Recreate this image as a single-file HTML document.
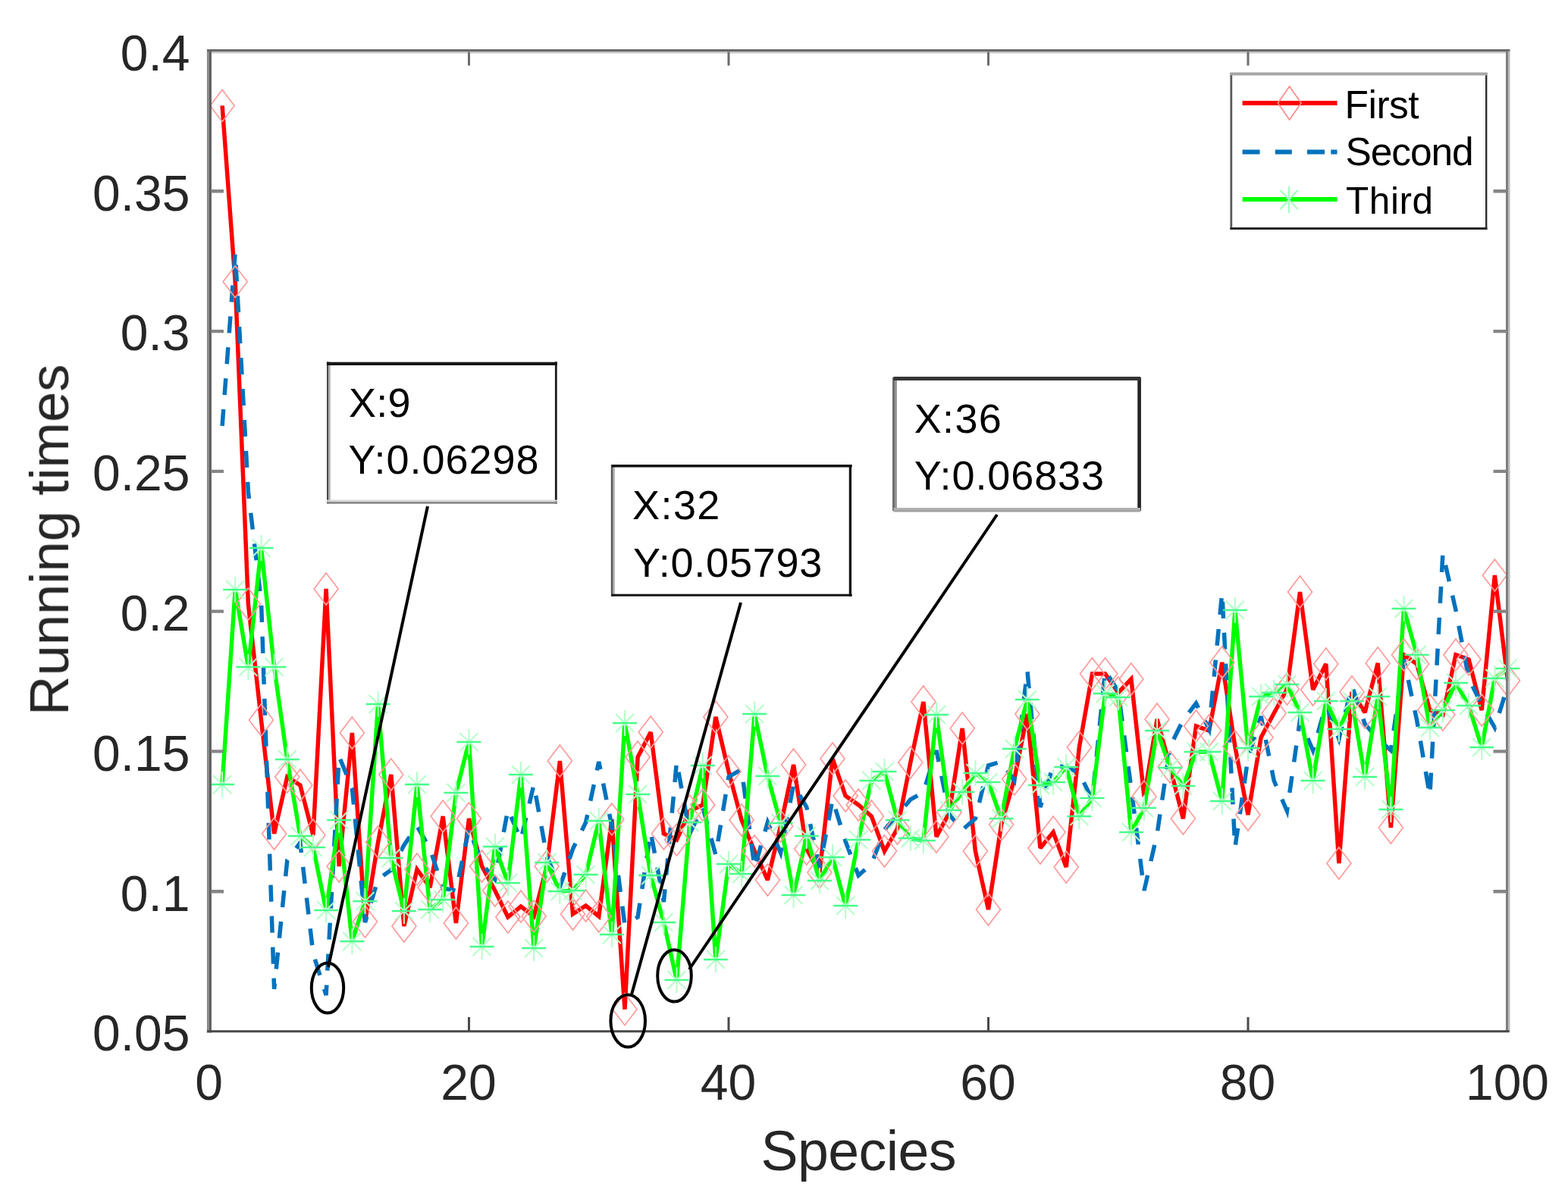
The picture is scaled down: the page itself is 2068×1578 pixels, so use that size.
<!DOCTYPE html><html><head><meta charset="utf-8"><title>Running times vs Species</title>
<style>html,body{margin:0;padding:0;background:#fff;overflow:hidden;}svg{display:block;}text{font-family:"Liberation Sans",Arial,Helvetica,sans-serif;}</style></head><body>
<svg width="2068" height="1578" viewBox="0 0 2068 1578">
<defs><filter id="soft" filterUnits="userSpaceOnUse" x="0" y="0" width="2068" height="1578"><feGaussianBlur stdDeviation="0.55"/></filter></defs>
<rect width="2068" height="1578" fill="#fff"/>
<g filter="url(#soft)">
<polyline fill="none" stroke="#ff0000" stroke-width="5.5" stroke-linejoin="miter" stroke-miterlimit="2.5" points="293.1,139.4 310.2,371.7 327.4,797.0 344.5,950.0 361.6,1100.0 378.8,1025.0 395.9,1036.0 413.0,1102.0 430.1,777.0 447.2,1143.0 464.4,967.0 481.5,1216.0 498.6,1111.0 515.8,1022.0 532.9,1222.0 550.0,1147.0 567.1,1171.0 584.2,1077.0 601.4,1218.0 618.5,1080.0 635.6,1143.0 652.8,1175.0 669.9,1210.0 687.0,1196.0 704.1,1209.0 721.2,1143.0 738.4,1004.0 755.5,1206.0 772.6,1195.0 789.8,1209.0 806.9,1081.0 824.0,1331.7 841.1,999.0 858.2,966.0 875.4,1100.0 892.5,1108.0 909.6,1070.0 926.8,1062.0 943.9,946.0 961.0,1018.0 978.1,1082.0 995.2,1123.0 1012.4,1161.0 1029.5,1090.0 1046.6,1009.0 1063.8,1120.0 1080.9,1151.0 1098.0,1001.0 1115.1,1050.0 1132.2,1062.0 1149.4,1077.0 1166.5,1123.0 1183.6,1093.0 1200.8,1006.0 1217.9,926.0 1235.0,1104.0 1252.1,1072.0 1269.2,961.0 1286.4,1123.0 1303.5,1200.0 1320.6,1088.0 1337.8,1028.0 1354.9,942.0 1372.0,1119.0 1389.1,1098.0 1406.2,1144.0 1423.4,986.0 1440.5,889.0 1457.6,889.0 1474.8,914.0 1491.9,896.0 1509.0,1051.0 1526.1,949.0 1543.2,1012.0 1560.4,1080.0 1577.5,958.0 1594.6,964.0 1611.8,874.0 1628.9,985.0 1646.0,1075.0 1663.1,973.0 1680.2,941.0 1697.4,909.0 1714.5,781.0 1731.6,910.0 1748.8,876.0 1765.9,1139.0 1783.0,913.0 1800.1,940.0 1817.2,875.0 1834.4,1092.0 1851.5,864.0 1868.6,876.0 1885.8,937.0 1902.9,943.0 1920.0,864.0 1937.1,870.0 1954.2,937.0 1971.4,759.0 1988.5,898.0"/>
<polyline fill="none" stroke="#0072bd" stroke-width="5.5" stroke-dasharray="22 19" stroke-linejoin="miter" points="293.1,562.0 310.2,333.0 327.4,649.0 344.5,793.0 361.6,1305.0 378.8,1135.0 395.9,1112.0 413.0,1258.0 430.1,1313.0 447.2,998.0 464.4,1040.0 481.5,1217.0 498.6,1160.0 515.8,1148.0 532.9,1115.0 550.0,1090.0 567.1,1120.0 584.2,1172.0 601.4,1175.0 618.5,1093.0 635.6,1140.0 652.8,1160.0 669.9,1068.0 687.0,1108.0 704.1,1035.0 721.2,1130.0 738.4,1170.0 755.5,1120.0 772.6,1085.0 789.8,1005.0 806.9,1090.0 824.0,1220.0 841.1,1210.0 858.2,1098.0 875.4,1190.0 892.5,1005.0 909.6,1100.0 926.8,1065.0 943.9,1128.0 961.0,1025.0 978.1,1015.0 995.2,1145.0 1012.4,1085.0 1029.5,1125.0 1046.6,1035.0 1063.8,1065.0 1080.9,1145.0 1098.0,1055.0 1115.1,1110.0 1132.2,1155.0 1149.4,1140.0 1166.5,1095.0 1183.6,1075.0 1200.8,1055.0 1217.9,1045.0 1235.0,990.0 1252.1,1075.0 1269.2,1095.0 1286.4,1080.0 1303.5,1010.0 1320.6,1005.0 1337.8,1030.0 1354.9,885.0 1372.0,1065.0 1389.1,1010.0 1406.2,1012.0 1423.4,1020.0 1440.5,1055.0 1457.6,885.0 1474.8,912.0 1491.9,1040.0 1509.0,1175.0 1526.1,1100.0 1543.2,985.0 1560.4,950.0 1577.5,928.0 1594.6,962.0 1611.8,782.0 1628.9,1118.0 1646.0,1000.0 1663.1,945.0 1680.2,1030.0 1697.4,1070.0 1714.5,950.0 1731.6,990.0 1748.8,930.0 1765.9,975.0 1783.0,905.0 1800.1,955.0 1817.2,975.0 1834.4,990.0 1851.5,870.0 1868.6,950.0 1885.8,1050.0 1902.9,730.0 1920.0,805.0 1937.1,895.0 1954.2,930.0 1971.4,960.0 1988.5,905.0"/>
<polyline fill="none" stroke="#00ff00" stroke-width="5.5" stroke-linejoin="miter" stroke-miterlimit="2.5" points="293.1,1035.0 310.2,778.0 327.4,880.0 344.5,723.0 361.6,880.0 378.8,1002.0 395.9,1103.0 413.0,1118.0 430.1,1201.0 447.2,1082.0 464.4,1242.0 481.5,1189.0 498.6,929.0 515.8,1132.0 532.9,1202.0 550.0,1035.0 567.1,1200.0 584.2,1187.0 601.4,1046.0 618.5,979.0 635.6,1249.0 652.8,1117.0 669.9,1165.0 687.0,1022.0 704.1,1251.0 721.2,1138.0 738.4,1176.0 755.5,1175.0 772.6,1154.0 789.8,1083.0 806.9,1233.0 824.0,954.0 841.1,1048.0 858.2,1155.0 875.4,1217.0 892.5,1293.0 909.6,1085.0 926.8,1010.0 943.9,1266.0 961.0,1140.0 978.1,1153.0 995.2,942.0 1012.4,1024.0 1029.5,1086.0 1046.6,1181.0 1063.8,1103.0 1080.9,1162.0 1098.0,1131.0 1115.1,1195.0 1132.2,1108.0 1149.4,1030.0 1166.5,1018.0 1183.6,1082.0 1200.8,1106.0 1217.9,1109.0 1235.0,943.0 1252.1,1069.0 1269.2,1045.0 1286.4,1020.0 1303.5,1032.0 1320.6,1080.0 1337.8,988.0 1354.9,923.0 1372.0,1036.0 1389.1,1032.0 1406.2,1012.0 1423.4,1077.0 1440.5,1053.0 1457.6,915.0 1474.8,920.0 1491.9,1098.0 1509.0,1066.0 1526.1,964.0 1543.2,1013.0 1560.4,1037.0 1577.5,992.0 1594.6,992.0 1611.8,1057.0 1628.9,805.0 1646.0,987.0 1663.1,919.0 1680.2,914.0 1697.4,903.0 1714.5,940.0 1731.6,1030.0 1748.8,925.0 1765.9,962.0 1783.0,925.0 1800.1,1025.0 1817.2,919.0 1834.4,1068.0 1851.5,803.0 1868.6,864.0 1885.8,960.0 1902.9,937.0 1920.0,901.0 1937.1,931.0 1954.2,986.0 1971.4,895.0 1988.5,882.0"/>
<path fill="none" stroke="#ff9c9c" stroke-width="1.7" d="M293.1,118.4L309.1,139.4L293.1,160.4L277.1,139.4ZM310.2,350.7L326.2,371.7L310.2,392.7L294.2,371.7ZM327.4,776.0L343.4,797.0L327.4,818.0L311.4,797.0ZM344.5,929.0L360.5,950.0L344.5,971.0L328.5,950.0ZM361.6,1079.0L377.6,1100.0L361.6,1121.0L345.6,1100.0ZM378.8,1004.0L394.8,1025.0L378.8,1046.0L362.8,1025.0ZM395.9,1015.0L411.9,1036.0L395.9,1057.0L379.9,1036.0ZM413.0,1081.0L429.0,1102.0L413.0,1123.0L397.0,1102.0ZM430.1,756.0L446.1,777.0L430.1,798.0L414.1,777.0ZM447.2,1122.0L463.2,1143.0L447.2,1164.0L431.2,1143.0ZM464.4,946.0L480.4,967.0L464.4,988.0L448.4,967.0ZM481.5,1195.0L497.5,1216.0L481.5,1237.0L465.5,1216.0ZM498.6,1090.0L514.6,1111.0L498.6,1132.0L482.6,1111.0ZM515.8,1001.0L531.8,1022.0L515.8,1043.0L499.8,1022.0ZM532.9,1201.0L548.9,1222.0L532.9,1243.0L516.9,1222.0ZM550.0,1126.0L566.0,1147.0L550.0,1168.0L534.0,1147.0ZM567.1,1150.0L583.1,1171.0L567.1,1192.0L551.1,1171.0ZM584.2,1056.0L600.2,1077.0L584.2,1098.0L568.2,1077.0ZM601.4,1197.0L617.4,1218.0L601.4,1239.0L585.4,1218.0ZM618.5,1059.0L634.5,1080.0L618.5,1101.0L602.5,1080.0ZM635.6,1122.0L651.6,1143.0L635.6,1164.0L619.6,1143.0ZM652.8,1154.0L668.8,1175.0L652.8,1196.0L636.8,1175.0ZM669.9,1189.0L685.9,1210.0L669.9,1231.0L653.9,1210.0ZM687.0,1175.0L703.0,1196.0L687.0,1217.0L671.0,1196.0ZM704.1,1188.0L720.1,1209.0L704.1,1230.0L688.1,1209.0ZM721.2,1122.0L737.2,1143.0L721.2,1164.0L705.2,1143.0ZM738.4,983.0L754.4,1004.0L738.4,1025.0L722.4,1004.0ZM755.5,1185.0L771.5,1206.0L755.5,1227.0L739.5,1206.0ZM772.6,1174.0L788.6,1195.0L772.6,1216.0L756.6,1195.0ZM789.8,1188.0L805.8,1209.0L789.8,1230.0L773.8,1209.0ZM806.9,1060.0L822.9,1081.0L806.9,1102.0L790.9,1081.0ZM824.0,1310.7L840.0,1331.7L824.0,1352.7L808.0,1331.7ZM841.1,978.0L857.1,999.0L841.1,1020.0L825.1,999.0ZM858.2,945.0L874.2,966.0L858.2,987.0L842.2,966.0ZM875.4,1079.0L891.4,1100.0L875.4,1121.0L859.4,1100.0ZM892.5,1087.0L908.5,1108.0L892.5,1129.0L876.5,1108.0ZM909.6,1049.0L925.6,1070.0L909.6,1091.0L893.6,1070.0ZM926.8,1041.0L942.8,1062.0L926.8,1083.0L910.8,1062.0ZM943.9,925.0L959.9,946.0L943.9,967.0L927.9,946.0ZM961.0,997.0L977.0,1018.0L961.0,1039.0L945.0,1018.0ZM978.1,1061.0L994.1,1082.0L978.1,1103.0L962.1,1082.0ZM995.2,1102.0L1011.2,1123.0L995.2,1144.0L979.2,1123.0ZM1012.4,1140.0L1028.4,1161.0L1012.4,1182.0L996.4,1161.0ZM1029.5,1069.0L1045.5,1090.0L1029.5,1111.0L1013.5,1090.0ZM1046.6,988.0L1062.6,1009.0L1046.6,1030.0L1030.6,1009.0ZM1063.8,1099.0L1079.8,1120.0L1063.8,1141.0L1047.8,1120.0ZM1080.9,1130.0L1096.9,1151.0L1080.9,1172.0L1064.9,1151.0ZM1098.0,980.0L1114.0,1001.0L1098.0,1022.0L1082.0,1001.0ZM1115.1,1029.0L1131.1,1050.0L1115.1,1071.0L1099.1,1050.0ZM1132.2,1041.0L1148.2,1062.0L1132.2,1083.0L1116.2,1062.0ZM1149.4,1056.0L1165.4,1077.0L1149.4,1098.0L1133.4,1077.0ZM1166.5,1102.0L1182.5,1123.0L1166.5,1144.0L1150.5,1123.0ZM1183.6,1072.0L1199.6,1093.0L1183.6,1114.0L1167.6,1093.0ZM1200.8,985.0L1216.8,1006.0L1200.8,1027.0L1184.8,1006.0ZM1217.9,905.0L1233.9,926.0L1217.9,947.0L1201.9,926.0ZM1235.0,1083.0L1251.0,1104.0L1235.0,1125.0L1219.0,1104.0ZM1252.1,1051.0L1268.1,1072.0L1252.1,1093.0L1236.1,1072.0ZM1269.2,940.0L1285.2,961.0L1269.2,982.0L1253.2,961.0ZM1286.4,1102.0L1302.4,1123.0L1286.4,1144.0L1270.4,1123.0ZM1303.5,1179.0L1319.5,1200.0L1303.5,1221.0L1287.5,1200.0ZM1320.6,1067.0L1336.6,1088.0L1320.6,1109.0L1304.6,1088.0ZM1337.8,1007.0L1353.8,1028.0L1337.8,1049.0L1321.8,1028.0ZM1354.9,921.0L1370.9,942.0L1354.9,963.0L1338.9,942.0ZM1372.0,1098.0L1388.0,1119.0L1372.0,1140.0L1356.0,1119.0ZM1389.1,1077.0L1405.1,1098.0L1389.1,1119.0L1373.1,1098.0ZM1406.2,1123.0L1422.2,1144.0L1406.2,1165.0L1390.2,1144.0ZM1423.4,965.0L1439.4,986.0L1423.4,1007.0L1407.4,986.0ZM1440.5,868.0L1456.5,889.0L1440.5,910.0L1424.5,889.0ZM1457.6,868.0L1473.6,889.0L1457.6,910.0L1441.6,889.0ZM1474.8,893.0L1490.8,914.0L1474.8,935.0L1458.8,914.0ZM1491.9,875.0L1507.9,896.0L1491.9,917.0L1475.9,896.0ZM1509.0,1030.0L1525.0,1051.0L1509.0,1072.0L1493.0,1051.0ZM1526.1,928.0L1542.1,949.0L1526.1,970.0L1510.1,949.0ZM1543.2,991.0L1559.2,1012.0L1543.2,1033.0L1527.2,1012.0ZM1560.4,1059.0L1576.4,1080.0L1560.4,1101.0L1544.4,1080.0ZM1577.5,937.0L1593.5,958.0L1577.5,979.0L1561.5,958.0ZM1594.6,943.0L1610.6,964.0L1594.6,985.0L1578.6,964.0ZM1611.8,853.0L1627.8,874.0L1611.8,895.0L1595.8,874.0ZM1628.9,964.0L1644.9,985.0L1628.9,1006.0L1612.9,985.0ZM1646.0,1054.0L1662.0,1075.0L1646.0,1096.0L1630.0,1075.0ZM1663.1,952.0L1679.1,973.0L1663.1,994.0L1647.1,973.0ZM1680.2,920.0L1696.2,941.0L1680.2,962.0L1664.2,941.0ZM1697.4,888.0L1713.4,909.0L1697.4,930.0L1681.4,909.0ZM1714.5,760.0L1730.5,781.0L1714.5,802.0L1698.5,781.0ZM1731.6,889.0L1747.6,910.0L1731.6,931.0L1715.6,910.0ZM1748.8,855.0L1764.8,876.0L1748.8,897.0L1732.8,876.0ZM1765.9,1118.0L1781.9,1139.0L1765.9,1160.0L1749.9,1139.0ZM1783.0,892.0L1799.0,913.0L1783.0,934.0L1767.0,913.0ZM1800.1,919.0L1816.1,940.0L1800.1,961.0L1784.1,940.0ZM1817.2,854.0L1833.2,875.0L1817.2,896.0L1801.2,875.0ZM1834.4,1071.0L1850.4,1092.0L1834.4,1113.0L1818.4,1092.0ZM1851.5,843.0L1867.5,864.0L1851.5,885.0L1835.5,864.0ZM1868.6,855.0L1884.6,876.0L1868.6,897.0L1852.6,876.0ZM1885.8,916.0L1901.8,937.0L1885.8,958.0L1869.8,937.0ZM1902.9,922.0L1918.9,943.0L1902.9,964.0L1886.9,943.0ZM1920.0,843.0L1936.0,864.0L1920.0,885.0L1904.0,864.0ZM1937.1,849.0L1953.1,870.0L1937.1,891.0L1921.1,870.0ZM1954.2,916.0L1970.2,937.0L1954.2,958.0L1938.2,937.0ZM1971.4,738.0L1987.4,759.0L1971.4,780.0L1955.4,759.0ZM1988.5,877.0L2004.5,898.0L1988.5,919.0L1972.5,898.0Z"/>
<path fill="none" stroke="#b4ffc8" stroke-width="2" d="M293.1,1018.0V1052.0M281.1,1023.0L305.1,1047.0M281.1,1047.0L305.1,1023.0M310.2,761.0V795.0M298.2,766.0L322.2,790.0M298.2,790.0L322.2,766.0M327.4,863.0V897.0M315.4,868.0L339.4,892.0M315.4,892.0L339.4,868.0M344.5,706.0V740.0M332.5,711.0L356.5,735.0M332.5,735.0L356.5,711.0M361.6,863.0V897.0M349.6,868.0L373.6,892.0M349.6,892.0L373.6,868.0M378.8,985.0V1019.0M366.8,990.0L390.8,1014.0M366.8,1014.0L390.8,990.0M395.9,1086.0V1120.0M383.9,1091.0L407.9,1115.0M383.9,1115.0L407.9,1091.0M413.0,1101.0V1135.0M401.0,1106.0L425.0,1130.0M401.0,1130.0L425.0,1106.0M430.1,1184.0V1218.0M418.1,1189.0L442.1,1213.0M418.1,1213.0L442.1,1189.0M447.2,1065.0V1099.0M435.2,1070.0L459.2,1094.0M435.2,1094.0L459.2,1070.0M464.4,1225.0V1259.0M452.4,1230.0L476.4,1254.0M452.4,1254.0L476.4,1230.0M481.5,1172.0V1206.0M469.5,1177.0L493.5,1201.0M469.5,1201.0L493.5,1177.0M498.6,912.0V946.0M486.6,917.0L510.6,941.0M486.6,941.0L510.6,917.0M515.8,1115.0V1149.0M503.8,1120.0L527.8,1144.0M503.8,1144.0L527.8,1120.0M532.9,1185.0V1219.0M520.9,1190.0L544.9,1214.0M520.9,1214.0L544.9,1190.0M550.0,1018.0V1052.0M538.0,1023.0L562.0,1047.0M538.0,1047.0L562.0,1023.0M567.1,1183.0V1217.0M555.1,1188.0L579.1,1212.0M555.1,1212.0L579.1,1188.0M584.2,1170.0V1204.0M572.2,1175.0L596.2,1199.0M572.2,1199.0L596.2,1175.0M601.4,1029.0V1063.0M589.4,1034.0L613.4,1058.0M589.4,1058.0L613.4,1034.0M618.5,962.0V996.0M606.5,967.0L630.5,991.0M606.5,991.0L630.5,967.0M635.6,1232.0V1266.0M623.6,1237.0L647.6,1261.0M623.6,1261.0L647.6,1237.0M652.8,1100.0V1134.0M640.8,1105.0L664.8,1129.0M640.8,1129.0L664.8,1105.0M669.9,1148.0V1182.0M657.9,1153.0L681.9,1177.0M657.9,1177.0L681.9,1153.0M687.0,1005.0V1039.0M675.0,1010.0L699.0,1034.0M675.0,1034.0L699.0,1010.0M704.1,1234.0V1268.0M692.1,1239.0L716.1,1263.0M692.1,1263.0L716.1,1239.0M721.2,1121.0V1155.0M709.2,1126.0L733.2,1150.0M709.2,1150.0L733.2,1126.0M738.4,1159.0V1193.0M726.4,1164.0L750.4,1188.0M726.4,1188.0L750.4,1164.0M755.5,1158.0V1192.0M743.5,1163.0L767.5,1187.0M743.5,1187.0L767.5,1163.0M772.6,1137.0V1171.0M760.6,1142.0L784.6,1166.0M760.6,1166.0L784.6,1142.0M789.8,1066.0V1100.0M777.8,1071.0L801.8,1095.0M777.8,1095.0L801.8,1071.0M806.9,1216.0V1250.0M794.9,1221.0L818.9,1245.0M794.9,1245.0L818.9,1221.0M824.0,937.0V971.0M812.0,942.0L836.0,966.0M812.0,966.0L836.0,942.0M841.1,1031.0V1065.0M829.1,1036.0L853.1,1060.0M829.1,1060.0L853.1,1036.0M858.2,1138.0V1172.0M846.2,1143.0L870.2,1167.0M846.2,1167.0L870.2,1143.0M875.4,1200.0V1234.0M863.4,1205.0L887.4,1229.0M863.4,1229.0L887.4,1205.0M892.5,1276.0V1310.0M880.5,1281.0L904.5,1305.0M880.5,1305.0L904.5,1281.0M909.6,1068.0V1102.0M897.6,1073.0L921.6,1097.0M897.6,1097.0L921.6,1073.0M926.8,993.0V1027.0M914.8,998.0L938.8,1022.0M914.8,1022.0L938.8,998.0M943.9,1249.0V1283.0M931.9,1254.0L955.9,1278.0M931.9,1278.0L955.9,1254.0M961.0,1123.0V1157.0M949.0,1128.0L973.0,1152.0M949.0,1152.0L973.0,1128.0M978.1,1136.0V1170.0M966.1,1141.0L990.1,1165.0M966.1,1165.0L990.1,1141.0M995.2,925.0V959.0M983.2,930.0L1007.2,954.0M983.2,954.0L1007.2,930.0M1012.4,1007.0V1041.0M1000.4,1012.0L1024.4,1036.0M1000.4,1036.0L1024.4,1012.0M1029.5,1069.0V1103.0M1017.5,1074.0L1041.5,1098.0M1017.5,1098.0L1041.5,1074.0M1046.6,1164.0V1198.0M1034.6,1169.0L1058.6,1193.0M1034.6,1193.0L1058.6,1169.0M1063.8,1086.0V1120.0M1051.8,1091.0L1075.8,1115.0M1051.8,1115.0L1075.8,1091.0M1080.9,1145.0V1179.0M1068.9,1150.0L1092.9,1174.0M1068.9,1174.0L1092.9,1150.0M1098.0,1114.0V1148.0M1086.0,1119.0L1110.0,1143.0M1086.0,1143.0L1110.0,1119.0M1115.1,1178.0V1212.0M1103.1,1183.0L1127.1,1207.0M1103.1,1207.0L1127.1,1183.0M1132.2,1091.0V1125.0M1120.2,1096.0L1144.2,1120.0M1120.2,1120.0L1144.2,1096.0M1149.4,1013.0V1047.0M1137.4,1018.0L1161.4,1042.0M1137.4,1042.0L1161.4,1018.0M1166.5,1001.0V1035.0M1154.5,1006.0L1178.5,1030.0M1154.5,1030.0L1178.5,1006.0M1183.6,1065.0V1099.0M1171.6,1070.0L1195.6,1094.0M1171.6,1094.0L1195.6,1070.0M1200.8,1089.0V1123.0M1188.8,1094.0L1212.8,1118.0M1188.8,1118.0L1212.8,1094.0M1217.9,1092.0V1126.0M1205.9,1097.0L1229.9,1121.0M1205.9,1121.0L1229.9,1097.0M1235.0,926.0V960.0M1223.0,931.0L1247.0,955.0M1223.0,955.0L1247.0,931.0M1252.1,1052.0V1086.0M1240.1,1057.0L1264.1,1081.0M1240.1,1081.0L1264.1,1057.0M1269.2,1028.0V1062.0M1257.2,1033.0L1281.2,1057.0M1257.2,1057.0L1281.2,1033.0M1286.4,1003.0V1037.0M1274.4,1008.0L1298.4,1032.0M1274.4,1032.0L1298.4,1008.0M1303.5,1015.0V1049.0M1291.5,1020.0L1315.5,1044.0M1291.5,1044.0L1315.5,1020.0M1320.6,1063.0V1097.0M1308.6,1068.0L1332.6,1092.0M1308.6,1092.0L1332.6,1068.0M1337.8,971.0V1005.0M1325.8,976.0L1349.8,1000.0M1325.8,1000.0L1349.8,976.0M1354.9,906.0V940.0M1342.9,911.0L1366.9,935.0M1342.9,935.0L1366.9,911.0M1372.0,1019.0V1053.0M1360.0,1024.0L1384.0,1048.0M1360.0,1048.0L1384.0,1024.0M1389.1,1015.0V1049.0M1377.1,1020.0L1401.1,1044.0M1377.1,1044.0L1401.1,1020.0M1406.2,995.0V1029.0M1394.2,1000.0L1418.2,1024.0M1394.2,1024.0L1418.2,1000.0M1423.4,1060.0V1094.0M1411.4,1065.0L1435.4,1089.0M1411.4,1089.0L1435.4,1065.0M1440.5,1036.0V1070.0M1428.5,1041.0L1452.5,1065.0M1428.5,1065.0L1452.5,1041.0M1457.6,898.0V932.0M1445.6,903.0L1469.6,927.0M1445.6,927.0L1469.6,903.0M1474.8,903.0V937.0M1462.8,908.0L1486.8,932.0M1462.8,932.0L1486.8,908.0M1491.9,1081.0V1115.0M1479.9,1086.0L1503.9,1110.0M1479.9,1110.0L1503.9,1086.0M1509.0,1049.0V1083.0M1497.0,1054.0L1521.0,1078.0M1497.0,1078.0L1521.0,1054.0M1526.1,947.0V981.0M1514.1,952.0L1538.1,976.0M1514.1,976.0L1538.1,952.0M1543.2,996.0V1030.0M1531.2,1001.0L1555.2,1025.0M1531.2,1025.0L1555.2,1001.0M1560.4,1020.0V1054.0M1548.4,1025.0L1572.4,1049.0M1548.4,1049.0L1572.4,1025.0M1577.5,975.0V1009.0M1565.5,980.0L1589.5,1004.0M1565.5,1004.0L1589.5,980.0M1594.6,975.0V1009.0M1582.6,980.0L1606.6,1004.0M1582.6,1004.0L1606.6,980.0M1611.8,1040.0V1074.0M1599.8,1045.0L1623.8,1069.0M1599.8,1069.0L1623.8,1045.0M1628.9,788.0V822.0M1616.9,793.0L1640.9,817.0M1616.9,817.0L1640.9,793.0M1646.0,970.0V1004.0M1634.0,975.0L1658.0,999.0M1634.0,999.0L1658.0,975.0M1663.1,902.0V936.0M1651.1,907.0L1675.1,931.0M1651.1,931.0L1675.1,907.0M1680.2,897.0V931.0M1668.2,902.0L1692.2,926.0M1668.2,926.0L1692.2,902.0M1697.4,886.0V920.0M1685.4,891.0L1709.4,915.0M1685.4,915.0L1709.4,891.0M1714.5,923.0V957.0M1702.5,928.0L1726.5,952.0M1702.5,952.0L1726.5,928.0M1731.6,1013.0V1047.0M1719.6,1018.0L1743.6,1042.0M1719.6,1042.0L1743.6,1018.0M1748.8,908.0V942.0M1736.8,913.0L1760.8,937.0M1736.8,937.0L1760.8,913.0M1765.9,945.0V979.0M1753.9,950.0L1777.9,974.0M1753.9,974.0L1777.9,950.0M1783.0,908.0V942.0M1771.0,913.0L1795.0,937.0M1771.0,937.0L1795.0,913.0M1800.1,1008.0V1042.0M1788.1,1013.0L1812.1,1037.0M1788.1,1037.0L1812.1,1013.0M1817.2,902.0V936.0M1805.2,907.0L1829.2,931.0M1805.2,931.0L1829.2,907.0M1834.4,1051.0V1085.0M1822.4,1056.0L1846.4,1080.0M1822.4,1080.0L1846.4,1056.0M1851.5,786.0V820.0M1839.5,791.0L1863.5,815.0M1839.5,815.0L1863.5,791.0M1868.6,847.0V881.0M1856.6,852.0L1880.6,876.0M1856.6,876.0L1880.6,852.0M1885.8,943.0V977.0M1873.8,948.0L1897.8,972.0M1873.8,972.0L1897.8,948.0M1902.9,920.0V954.0M1890.9,925.0L1914.9,949.0M1890.9,949.0L1914.9,925.0M1920.0,884.0V918.0M1908.0,889.0L1932.0,913.0M1908.0,913.0L1932.0,889.0M1937.1,914.0V948.0M1925.1,919.0L1949.1,943.0M1925.1,943.0L1949.1,919.0M1954.2,969.0V1003.0M1942.2,974.0L1966.2,998.0M1942.2,998.0L1966.2,974.0M1971.4,878.0V912.0M1959.4,883.0L1983.4,907.0M1959.4,907.0L1983.4,883.0M1988.5,865.0V899.0M1976.5,870.0L2000.5,894.0M1976.5,894.0L2000.5,870.0"/>
<path fill="none" stroke="#44ff88" stroke-width="2.4" d="M277.1,1035.0H309.1M294.2,778.0H326.2M311.4,880.0H343.4M328.5,723.0H360.5M345.6,880.0H377.6M362.8,1002.0H394.8M379.9,1103.0H411.9M397.0,1118.0H429.0M414.1,1201.0H446.1M431.2,1082.0H463.2M448.4,1242.0H480.4M465.5,1189.0H497.5M482.6,929.0H514.6M499.8,1132.0H531.8M516.9,1202.0H548.9M534.0,1035.0H566.0M551.1,1200.0H583.1M568.2,1187.0H600.2M585.4,1046.0H617.4M602.5,979.0H634.5M619.6,1249.0H651.6M636.8,1117.0H668.8M653.9,1165.0H685.9M671.0,1022.0H703.0M688.1,1251.0H720.1M705.2,1138.0H737.2M722.4,1176.0H754.4M739.5,1175.0H771.5M756.6,1154.0H788.6M773.8,1083.0H805.8M790.9,1233.0H822.9M808.0,954.0H840.0M825.1,1048.0H857.1M842.2,1155.0H874.2M859.4,1217.0H891.4M876.5,1293.0H908.5M893.6,1085.0H925.6M910.8,1010.0H942.8M927.9,1266.0H959.9M945.0,1140.0H977.0M962.1,1153.0H994.1M979.2,942.0H1011.2M996.4,1024.0H1028.4M1013.5,1086.0H1045.5M1030.6,1181.0H1062.6M1047.8,1103.0H1079.8M1064.9,1162.0H1096.9M1082.0,1131.0H1114.0M1099.1,1195.0H1131.1M1116.2,1108.0H1148.2M1133.4,1030.0H1165.4M1150.5,1018.0H1182.5M1167.6,1082.0H1199.6M1184.8,1106.0H1216.8M1201.9,1109.0H1233.9M1219.0,943.0H1251.0M1236.1,1069.0H1268.1M1253.2,1045.0H1285.2M1270.4,1020.0H1302.4M1287.5,1032.0H1319.5M1304.6,1080.0H1336.6M1321.8,988.0H1353.8M1338.9,923.0H1370.9M1356.0,1036.0H1388.0M1373.1,1032.0H1405.1M1390.2,1012.0H1422.2M1407.4,1077.0H1439.4M1424.5,1053.0H1456.5M1441.6,915.0H1473.6M1458.8,920.0H1490.8M1475.9,1098.0H1507.9M1493.0,1066.0H1525.0M1510.1,964.0H1542.1M1527.2,1013.0H1559.2M1544.4,1037.0H1576.4M1561.5,992.0H1593.5M1578.6,992.0H1610.6M1595.8,1057.0H1627.8M1612.9,805.0H1644.9M1630.0,987.0H1662.0M1647.1,919.0H1679.1M1664.2,914.0H1696.2M1681.4,903.0H1713.4M1698.5,940.0H1730.5M1715.6,1030.0H1747.6M1732.8,925.0H1764.8M1749.9,962.0H1781.9M1767.0,925.0H1799.0M1784.1,1025.0H1816.1M1801.2,919.0H1833.2M1818.4,1068.0H1850.4M1835.5,803.0H1867.5M1852.6,864.0H1884.6M1869.8,960.0H1901.8M1886.9,937.0H1918.9M1904.0,901.0H1936.0M1921.1,931.0H1953.1M1938.2,986.0H1970.2M1955.4,895.0H1987.4M1972.5,882.0H2004.5"/>
<line x1="274.4" y1="65.0" x2="274.4" y2="1362.5" stroke="#8a8a8a" stroke-width="3"/>
<line x1="277.4" y1="65.0" x2="277.4" y2="1362.5" stroke="#5c5c5c" stroke-width="3"/>
<line x1="273.0" y1="66.5" x2="1991.5" y2="66.5" stroke="#686868" stroke-width="3"/>
<line x1="279.0" y1="69.2" x2="1988.5" y2="69.2" stroke="#bdbdbd" stroke-width="2"/>
<line x1="1987.5" y1="67.5" x2="1987.5" y2="1362.0" stroke="#7e7e7e" stroke-width="3"/>
<line x1="1990.3" y1="67.5" x2="1990.3" y2="1362.0" stroke="#b8b8b8" stroke-width="2.4"/>
<line x1="273.0" y1="1360.8" x2="1990.5" y2="1360.8" stroke="#484848" stroke-width="3"/>
<path fill="none" stroke="#6c6c6c" stroke-width="3" d="M618.5,68.5V86.5M961.0,68.5V86.5M1303.5,68.5V86.5M1646.0,68.5V86.5"/>
<path fill="none" stroke="#4a4a4a" stroke-width="3" d="M618.5,1360.0V1342.0M961.0,1360.0V1342.0M1303.5,1360.0V1342.0M1646.0,1360.0V1342.0"/>
<path fill="none" stroke="#858585" stroke-width="4.4" d="M278.0,1176.2H295.0M1987.5,1176.2H1969.5M278.0,991.4H295.0M1987.5,991.4H1969.5M278.0,806.6H295.0M1987.5,806.6H1969.5M278.0,621.9H295.0M1987.5,621.9H1969.5M278.0,437.1H295.0M1987.5,437.1H1969.5M278.0,252.3H295.0M1987.5,252.3H1969.5"/>
<text x="250.5" y="1386.3" font-size="66" fill="#262626" text-anchor="end">0.05</text>
<text x="250.5" y="1201.5" font-size="66" fill="#262626" text-anchor="end">0.1</text>
<text x="250.5" y="1016.7" font-size="66" fill="#262626" text-anchor="end">0.15</text>
<text x="250.5" y="831.9" font-size="66" fill="#262626" text-anchor="end">0.2</text>
<text x="250.5" y="647.2" font-size="66" fill="#262626" text-anchor="end">0.25</text>
<text x="250.5" y="462.4" font-size="66" fill="#262626" text-anchor="end">0.3</text>
<text x="250.5" y="277.6" font-size="66" fill="#262626" text-anchor="end">0.35</text>
<text x="250.5" y="92.8" font-size="66" fill="#262626" text-anchor="end">0.4</text>
<text x="275.5" y="1451.4" font-size="66" fill="#262626" text-anchor="middle">0</text>
<text x="618.0" y="1451.4" font-size="66" fill="#262626" text-anchor="middle">20</text>
<text x="960.5" y="1451.4" font-size="66" fill="#262626" text-anchor="middle">40</text>
<text x="1303.0" y="1451.4" font-size="66" fill="#262626" text-anchor="middle">60</text>
<text x="1645.5" y="1451.4" font-size="66" fill="#262626" text-anchor="middle">80</text>
<text x="1988.0" y="1451.4" font-size="66" fill="#262626" text-anchor="middle">100</text>
<text x="1132.5" y="1543.7" font-size="73.5" fill="#262626" text-anchor="middle" textLength="257.8">Species</text>
<text transform="translate(89.9,712.3) rotate(-90)" x="0" y="0" font-size="72.5" fill="#262626" text-anchor="middle">Running times</text>
<rect x="1623.8" y="97.4" width="336.5" height="204.5" fill="#fff"/>
<g fill="none">
<line x1="1623.8" y1="96" x2="1623.8" y2="303" stroke="#5a5a5a" stroke-width="2.8"/>
<line x1="1960.2" y1="96" x2="1960.2" y2="303" stroke="#2e2e2e" stroke-width="2.4"/>
<line x1="1622.4" y1="301.5" x2="1961.4" y2="301.5" stroke="#262626" stroke-width="3.2"/>
<line x1="1622.4" y1="97.4" x2="1961.4" y2="97.4" stroke="#a6a6a6" stroke-width="4"/>
</g>
<line x1="1638.6" y1="136" x2="1763.5" y2="136" stroke="#ff0000" stroke-width="6"/>
<path fill="none" stroke="#ff8a8a" stroke-width="1.7" d="M1700.7,114L1716,136L1700.7,158L1685.4,136Z"/>
<path fill="none" stroke="#0072bd" stroke-width="6" d="M1638.6,200.4H1661.6M1681.8,200.4H1703.8M1724,200.4H1747M1755.3,200.4H1763.5"/>
<line x1="1638.6" y1="263" x2="1763.5" y2="263" stroke="#00ff00" stroke-width="6"/>
<path fill="none" stroke="#a0ffbc" stroke-width="2" d="M1700,246V281M1688.5,251L1711.5,276M1688.5,276L1711.5,251"/>
<text x="1773.5" y="155.8" font-size="51.5" fill="#000" textLength="98.1">First</text>
<text x="1774.5" y="218.4" font-size="51.5" fill="#000" textLength="169.1">Second</text>
<text x="1775" y="282" font-size="49.5" fill="#000" textLength="115.1">Third</text>
<rect x="432.4" y="478.8" width="301.1" height="184.3" fill="#fff"/>
<line x1="432.2" y1="477.3" x2="432.2" y2="664.6" stroke="#4a4a4a" stroke-width="2.4"/>
<line x1="434.5" y1="477.3" x2="434.5" y2="664.6" stroke="#aaaaaa" stroke-width="2.4"/>
<line x1="733.3" y1="477.3" x2="733.3" y2="664.6" stroke="#1a1a1a" stroke-width="2.8"/>
<line x1="430.9" y1="660.6" x2="735.0" y2="660.6" stroke="#d5d5d5" stroke-width="2.4"/>
<line x1="430.9" y1="663.4" x2="735.0" y2="663.4" stroke="#8a8a8a" stroke-width="2.8"/>
<line x1="430.9" y1="479.8" x2="735.0" y2="479.8" stroke="#141414" stroke-width="4.2"/>
<text x="460.0" y="549.6" font-size="54" fill="#000" textLength="81.6">X:9</text>
<text x="459.6" y="625.0" font-size="54" fill="#000" textLength="251.05">Y:0.06298</text>
<rect x="808.2" y="614.5" width="314.0" height="171.0" fill="#fff"/>
<line x1="807.0" y1="613.0" x2="807.0" y2="787.0" stroke="#555555" stroke-width="2.4"/>
<line x1="809.4" y1="613.0" x2="809.4" y2="787.0" stroke="#a0a0a0" stroke-width="2.4"/>
<line x1="1121.4" y1="613.0" x2="1121.4" y2="787.0" stroke="#111111" stroke-width="3.3"/>
<line x1="806.7" y1="785.2" x2="1123.7" y2="785.2" stroke="#151515" stroke-width="2.9"/>
<line x1="806.7" y1="614.7" x2="1123.7" y2="614.7" stroke="#111111" stroke-width="3.4"/>
<text x="834.0" y="684.8" font-size="54" fill="#000" textLength="115.4">X:32</text>
<text x="835.0" y="761.1" font-size="54" fill="#000" textLength="249.35">Y:0.05793</text>
<rect x="1179.9" y="499.4" width="322.7" height="173.1" fill="#fff"/>
<line x1="1178.6" y1="497.9" x2="1178.6" y2="674.0" stroke="#6e6e6e" stroke-width="3.2"/>
<line x1="1181.5" y1="497.9" x2="1181.5" y2="674.0" stroke="#8a8a8a" stroke-width="2.6"/>
<line x1="1502.6" y1="497.9" x2="1502.6" y2="674.0" stroke="#222222" stroke-width="4.6"/>
<line x1="1178.4" y1="671.6" x2="1504.1" y2="671.6" stroke="#b0b0b0" stroke-width="3.2"/>
<line x1="1178.4" y1="674.3" x2="1504.1" y2="674.3" stroke="#a0a0a0" stroke-width="2.4"/>
<line x1="1178.4" y1="499.4" x2="1504.1" y2="499.4" stroke="#353535" stroke-width="5.0"/>
<text x="1205.7" y="571.3" font-size="54" fill="#000" textLength="115.1">X:36</text>
<text x="1205.7" y="646.3" font-size="54" fill="#000" textLength="250.35">Y:0.06833</text>
<g fill="none" stroke="#000" stroke-width="4">
<line x1="564" y1="668" x2="433" y2="1276"/>
<line x1="977" y1="795" x2="833" y2="1312"/>
<line x1="1315" y1="679" x2="909" y2="1279"/>
<ellipse cx="432" cy="1303.5" rx="21.2" ry="33"/>
<ellipse cx="828.2" cy="1346.9" rx="22.8" ry="34.5"/>
<ellipse cx="889.5" cy="1287.4" rx="22.3" ry="34.2"/>
</g>
</g>
</svg></body></html>
